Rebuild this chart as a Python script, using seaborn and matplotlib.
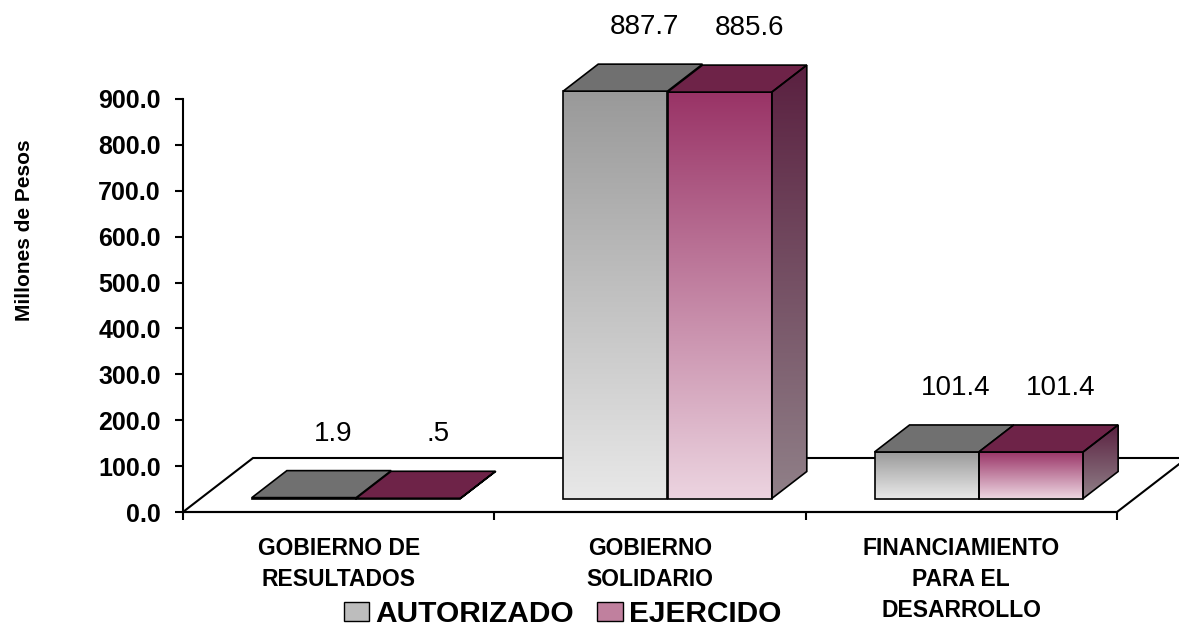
import matplotlib
matplotlib.use("Agg")
import matplotlib.pyplot as plt
import matplotlib.transforms as mtransforms
from matplotlib.colors import LinearSegmentedColormap
from matplotlib.patches import Polygon, Patch
import numpy as np
import pandas as pd
import seaborn as sns

# chart data
categories = ["GOBIERNO DE\nRESULTADOS", "GOBIERNO\nSOLIDARIO", "FINANCIAMIENTO\nPARA EL\nDESARROLLO"]
series = ["AUTORIZADO", "EJERCIDO"]
autorizado = [1.9, 887.7, 101.4]
ejercido = [0.5, 885.6, 101.4]
labels_autorizado = ["1.9", "887.7", "101.4"]
labels_ejercido = [".5", "885.6", "101.4"]
y_ticks = [0, 100, 200, 300, 400, 500, 600, 700, 800, 900]

data = pd.DataFrame({
    "categoria": categories * 2,
    "serie": [series[0]] * 3 + [series[1]] * 3,
    "valor": autorizado + ejercido,
})
value_labels = [labels_autorizado, labels_ejercido]

# styling
front_cmaps = [
    LinearSegmentedColormap.from_list("gris", ["#e8e8e8", "#999999"]),
    LinearSegmentedColormap.from_list("vino", ["#ecd4e0", "#993366"]),
]
side_cmap = LinearSegmentedColormap.from_list("lado", ["#908088", "#5a2040"])
top_colors = ["#707070", "#6e2348"]
legend_colors = ["#bdbdbd", "#c0809e"]

sns.set_theme(style="white")
plt.rcParams["font.family"] = ["Liberation Sans", "DejaVu Sans"]
plt.rcParams["text.color"] = "black"
plt.rcParams["xtick.color"] = "black"
plt.rcParams["ytick.color"] = "black"
plt.rcParams["axes.labelcolor"] = "black"

DPI = 100
fig = plt.figure(figsize=(11.79, 6.28), dpi=DPI)
ax = fig.add_axes([183 / 1179, 116 / 628, 934 / 1179, 413 / 628])

sns.barplot(data=data, x="categoria", y="valor", hue="serie", order=categories,
            hue_order=series, palette=legend_colors, width=0.67, saturation=1,
            edgecolor="black", linewidth=1.2, legend=False, ax=ax)

ax.set_xlim(-0.5, 2.5)
ax.set_ylim(0, 900)

# pseudo-3D depth, in pixels
depth_px = (35, 27)
px_per_x = 934 / 3
px_per_y = 413 / 900
ddx = depth_px[0] / px_per_x
ddy = depth_px[1] / px_per_y
shift = mtransforms.ScaledTranslation(depth_px[0] / 2 / DPI, depth_px[1] / 2 / DPI,
                                      fig.dpi_scale_trans)
bar_tr = ax.transData + shift

# floor
floor = Polygon([(-0.5, 0), (2.5, 0), (2.5 + 2 * ddx, 2 * ddy), (-0.5 + 2 * ddx, 2 * ddy)],
                closed=True, facecolor="white", edgecolor="black", linewidth=1.5,
                clip_on=False, zorder=1)
ax.add_patch(floor)

grad = np.linspace(0, 1, 256).reshape(-1, 1)
for i, container in enumerate(ax.containers):
    for j, bar in enumerate(container):
        x0, w, h = bar.get_x(), bar.get_width(), bar.get_height()
        bar.set_transform(bar_tr)
        bar.set_facecolor("none")
        bar.set_clip_on(False)
        bar.set_zorder(4)
        im = ax.imshow(grad, extent=[x0, x0 + w, 0, h], origin="lower", aspect="auto",
                       cmap=front_cmaps[i], zorder=3, interpolation="bilinear")
        im.set_transform(bar_tr)
        im.set_clip_on(False)
        top = Polygon([(x0, h), (x0 + w, h), (x0 + w + ddx, h + ddy), (x0 + ddx, h + ddy)],
                      closed=True, facecolor=top_colors[i], edgecolor="black",
                      linewidth=1.2, transform=bar_tr, clip_on=False, zorder=4)
        ax.add_patch(top)
        if i == len(series) - 1:
            side = Polygon([(x0 + w, 0), (x0 + w, h), (x0 + w + ddx, h + ddy), (x0 + w + ddx, ddy)],
                           closed=True, facecolor="none", edgecolor="black",
                           linewidth=1.2, transform=bar_tr, clip_on=False, zorder=4)
            ax.add_patch(side)
            sim = ax.imshow(grad, extent=[x0 + w, x0 + w + ddx, 0, h + ddy], origin="lower",
                            aspect="auto", cmap=side_cmap, zorder=3, interpolation="bilinear")
            sim.set_transform(bar_tr)
            sim.set_clip_path(side)
            sim.set_clip_box(fig.bbox)
        ax.annotate(value_labels[i][j], xy=(x0 + w / 2 + ddx / 2, h + ddy), xycoords=bar_tr,
                    xytext=(12 * 0.72, 37 * 0.72), textcoords="offset points",
                    ha="center", va="center", fontsize=20, color="black",
                    annotation_clip=False)

ax.set_xlim(-0.5, 2.5)
ax.set_ylim(0, 900)

# axes
sns.despine(ax=ax)
for side_name in ["left", "bottom"]:
    ax.spines[side_name].set_color("black")
    ax.spines[side_name].set_linewidth(1.5)
    ax.spines[side_name].set_zorder(2)

ax.set_yticks(y_ticks)
ax.set_yticklabels([f"{t:.1f}" for t in y_ticks], fontsize=18, fontweight="bold")
ax.tick_params(axis="y", left=True, length=6, width=1.5, color="black", pad=10)
ax.set_xticks(range(len(categories)))
ax.set_xticklabels(categories, fontsize=16.5, fontweight="bold", linespacing=1.45, va="top")
ax.set_xticks([-0.5, 0.5, 1.5, 2.5], minor=True)
ax.tick_params(axis="x", which="major", length=0, pad=18)
ax.tick_params(axis="x", which="minor", bottom=True, length=6, width=1.5, color="black")
ax.set_xlabel("")
ax.set_ylabel("Millones de Pesos", fontsize=15, fontweight="bold")
ax.yaxis.set_label_coords(-0.159, 0.683)

handles = [Patch(facecolor=c, edgecolor="black", linewidth=1) for c in legend_colors]
fig.legend(handles, series, loc="center", bbox_to_anchor=(0.477, 0.023), ncol=2,
           frameon=False, prop={"weight": "bold", "size": 21.5}, handlelength=0.84,
           handleheight=0.6, handletextpad=0.2, columnspacing=0.8)

fig.savefig("out.png", dpi=DPI)
